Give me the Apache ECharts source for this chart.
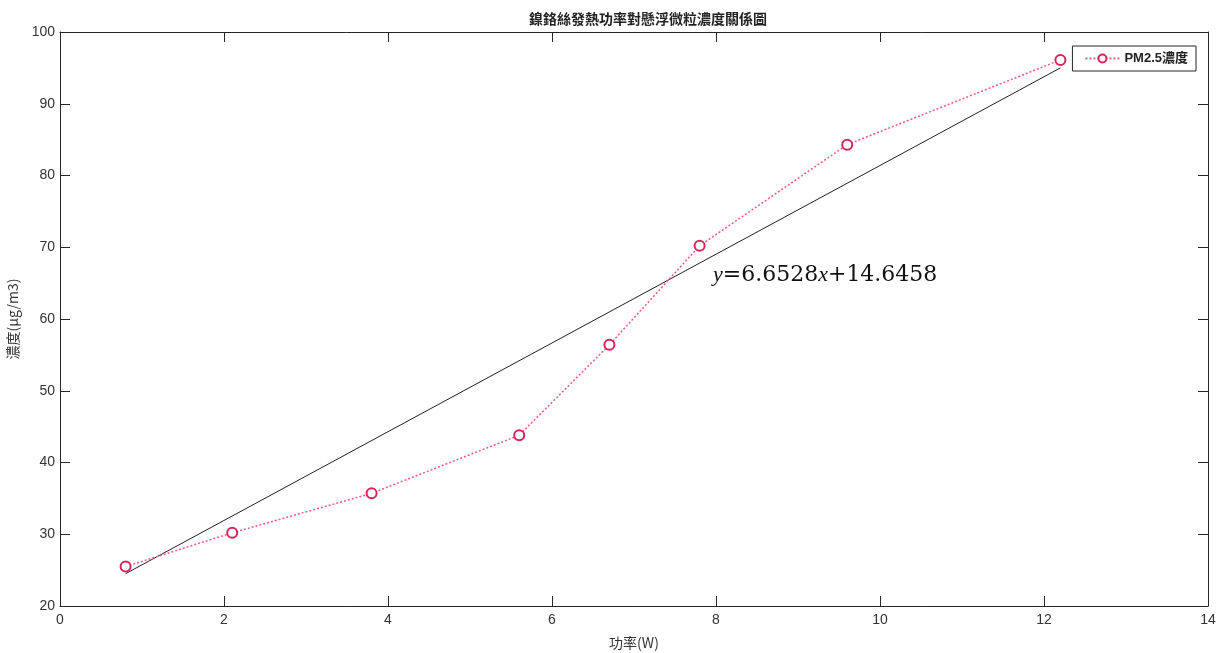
<!DOCTYPE html>
<html>
<head>
<meta charset="utf-8">
<script src="https://cdn.jsdelivr.net/npm/echarts@6/dist/echarts.min.js"></script>
<style>
  html, body { margin: 0; padding: 0; background: #fff; }
  #chart { width: 1219px; height: 653px; }
</style>
</head>
<body>
<div id="chart"></div>
<script>
// 功率 (W) 與 PM2.5 濃度
const powerW = [0.8, 2.1, 3.8, 5.6, 6.7, 7.8, 9.6, 12.2];
const pm25 = [25.5, 30.2, 35.7, 43.8, 56.4, 70.2, 84.3, 96.1];
// 趨勢線兩端（照圖上讀取）
const fitX = [0.8, 12.2];
const fitY = [24.5, 95.0];

const tickFont = { fontFamily: 'Liberation Sans, Arial, sans-serif', fontSize: 14, color: '#333' };
// onZero 要關掉，不然 y 軸會被放到 x=0 的位置
const axisLine = { onZero: false, lineStyle: { color: '#262626', width: 1 } };
const axisTickIn = { inside: true, length: 10, lineStyle: { color: '#262626' } };

const chart = echarts.init(document.getElementById('chart'));

const option = {
  animation: false,
  backgroundColor: '#fff',
  title: {
    text: '鎳鉻絲發熱功率對懸浮微粒濃度關係圖',
    left: 643,
    top: 7,
    textAlign: 'center',
    textStyle: { fontFamily: 'Noto Sans CJK TC', fontSize: 14, fontWeight: 'bold', color: '#222' }
  },
  grid: { left: 60, right: 11, top: 32, bottom: 47, outerBoundsMode: 'none', containLabel: false },
  legend: {
    right: 23,
    top: 46,
    orient: 'vertical',
    data: ['PM2.5濃度'],
    borderColor: '#262626',
    borderWidth: 1,
    borderRadius: 0,
    padding: [6, 8, 6, 12],
    itemWidth: 34,
    itemHeight: 10,
    itemGap: 4,
    textStyle: { fontFamily: 'Liberation Sans, Arial, Noto Sans CJK TC', fontSize: 13, fontWeight: 'bold', color: '#222' }
  },
  xAxis: [
    {
      type: 'value', min: 0, max: 14, interval: 2, position: 'bottom',
      name: '功率(W)', nameLocation: 'middle', nameGap: 30,
      nameTextStyle: { fontFamily: 'Noto Sans CJK TC', fontSize: 14, color: '#333' },
      axisLine: axisLine, axisTick: axisTickIn,
      axisLabel: Object.assign({ margin: 7 }, tickFont),
      splitLine: { show: false }
    },
    {
      type: 'value', min: 0, max: 14, interval: 2, position: 'top',
      axisLine: axisLine, axisTick: axisTickIn,
      axisLabel: { show: false }, splitLine: { show: false }
    }
  ],
  yAxis: [
    {
      type: 'value', min: 20, max: 100, interval: 10, position: 'left',
      name: '濃度(μg/m3)', nameLocation: 'middle', nameGap: 40, nameRotate: 90,
      nameTextStyle: { fontFamily: 'Noto Sans CJK TC', fontSize: 14, color: '#333' },
      axisLine: axisLine, axisTick: axisTickIn,
      axisLabel: Object.assign({ margin: 5 }, tickFont),
      splitLine: { show: false }
    },
    {
      type: 'value', min: 20, max: 100, interval: 10, position: 'right',
      axisLine: axisLine, axisTick: axisTickIn,
      axisLabel: { show: false }, splitLine: { show: false }
    }
  ],
  series: [
    {
      name: 'PM2.5濃度',
      type: 'line',
      data: powerW.map((x, i) => [x, pm25[i]]),
      symbol: 'circle',
      symbolSize: 10,
      showSymbol: true,
      itemStyle: { color: '#fff', borderColor: '#d9245a', borderWidth: 2 },
      lineStyle: { color: '#ee5a88', width: 1.5, type: [2, 2] },
      z: 3
    },
    {
      name: 'fit',
      type: 'line',
      data: fitX.map((x, i) => [x, fitY[i]]),
      symbol: 'none',
      lineStyle: { color: '#222', width: 1 },
      z: 2
    }
  ],
  graphic: [
    {
      type: 'text',
      left: 713,
      top: 264,
      style: {
        rich: {
          v: { font: 'italic 22px "Liberation Serif", serif', fill: '#111' },
          n: { font: '22px "DejaVu Serif", serif', fill: '#111' }
        },
        text: '{v|y}{n|=6.6528}{v|x}{n|+14.6458}'
      }
    }
  ]
};

chart.setOption(option);
</script>
</body>
</html>
